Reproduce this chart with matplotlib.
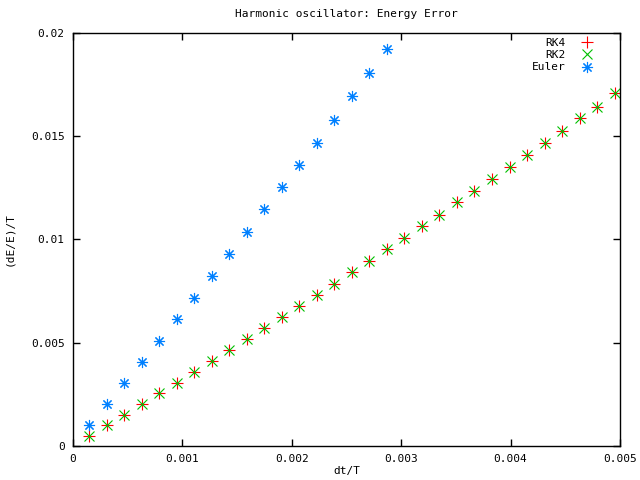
import matplotlib
matplotlib.use("Agg")
import matplotlib.pyplot as plt

plt.rcParams['font.family'] = ['DejaVu Sans Mono']

dt = [0.00015, 0.00031, 0.00047, 0.00063, 0.00079, 0.00095, 0.00111, 0.00127,
      0.00143, 0.00159, 0.00175, 0.00191, 0.00207, 0.00223, 0.00239, 0.00255,
      0.00271, 0.00287, 0.00303, 0.00319, 0.00335, 0.00351, 0.00367, 0.00383,
      0.00399, 0.00415, 0.00431, 0.00447, 0.00463, 0.00479, 0.00495]

rk4 = [0.00048, 0.00100, 0.00150, 0.00205, 0.00255, 0.00303, 0.00357, 0.00411,
       0.00463, 0.00516, 0.00570, 0.00623, 0.00677, 0.00731, 0.00784, 0.00840,
       0.00894, 0.00952, 0.01005, 0.01065, 0.01116, 0.01181, 0.01234, 0.01291,
       0.01350, 0.01408, 0.01466, 0.01523, 0.01586, 0.01639, 0.01707]
rk2 = list(rk4)

dt_euler = dt[:18]
euler = [0.00102, 0.00203, 0.00303, 0.00405, 0.00508, 0.00613, 0.00715, 0.00823,
         0.00928, 0.01034, 0.01145, 0.01252, 0.01360, 0.01468, 0.01578, 0.01692,
         0.01804, 0.01920]

xticks = [0, 0.001, 0.002, 0.003, 0.004, 0.005]
xticklabels = ["0", "0.001", "0.002", "0.003", "0.004", "0.005"]
yticks = [0, 0.005, 0.01, 0.015, 0.02]
yticklabels = ["0", "0.005", "0.01", "0.015", "0.02"]

fig = plt.figure(figsize=(6.4, 4.8), dpi=100)
ax = fig.add_axes([73/640, 1-446/480, (620-73)/640, (446-32.7)/480])

ms = 8
mew = 0.8
ax.plot(dt, rk4, linestyle='none', marker='+', color='#ff0000', markersize=ms, markeredgewidth=mew, label='RK4')
ax.plot(dt, rk2, linestyle='none', marker='x', color='#00c000', markersize=ms*0.85, markeredgewidth=mew, label='RK2')
ax.plot(dt_euler, euler, linestyle='none', marker=(8, 2, 0), color='#0080ff', markersize=ms, markeredgewidth=mew, label='Euler')

ax.set_xlim(0, 0.005)
ax.set_ylim(0, 0.02)
ax.set_xticks(xticks)
ax.set_xticklabels(xticklabels)
ax.set_yticks(yticks)
ax.set_yticklabels(yticklabels)
ax.tick_params(direction='in', length=5, width=1, top=True, right=True, labelsize=8, pad=6)
for s in ax.spines.values():
    s.set_linewidth(1)

ax.set_title('Harmonic oscillator: Energy Error', fontsize=8, pad=11)
ax.set_xlabel('dt/T', fontsize=8, labelpad=1)
ax.set_ylabel('(dE/E)/T', fontsize=8, labelpad=12)

leg = ax.legend(loc='upper right', frameon=False, markerfirst=False, fontsize=8,
                handlelength=1.5, handletextpad=1.2, labelspacing=0.2,
                bbox_to_anchor=(0.97, 1.006), borderaxespad=0.3)

fig.savefig('out.png', dpi=100)
